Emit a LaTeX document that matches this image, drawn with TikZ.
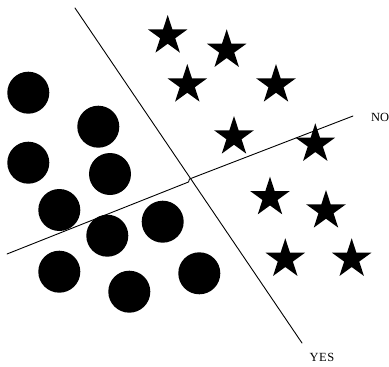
\documentclass[tikz,border=0pt]{standalone}
\usepackage{fontspec}
\setmainfont{Liberation Serif}
\usetikzlibrary{shapes.geometric}
\begin{document}
\begin{tikzpicture}[x=1bp,y=-1bp,
  dot/.style={circle,fill=black,inner sep=0pt,minimum size=42bp},
  starbox/.style={star,star points=5,star point ratio=2.618,fill=black,inner sep=0pt,minimum size=41.6bp},
  sep/.style={line width=0.9bp,line cap=round},
  lbl/.style={font=\fontsize{12.5}{14}\selectfont,inner sep=0pt,anchor=base west}]
\useasboundingbox (0,0) rectangle (389,367);
% circles
\foreach \n/\x/\y in {c1/28.3/92.7,c2/98.3/126.7,c3/28.3/162.7,c4/110/174,c5/59.3/210,
  c6/162.7/221.7,c7/107.3/235.7,c8/59.3/271.7,c9/129.3/291.7,c10/199.3/273.3}
  \node[dot] (\n) at (\x,\y) {};
% stars
\foreach \n/\x/\y in {s1/167.7/35.8,s2/226.7/50.1,s3/187.3/84.8,s4/276/84.8,s5/234/136.8,
  s6/315.3/144.1,s7/270/197.5,s8/326/210.8,s9/285.3/259.1,s10/351.7/259.1}
  \node[starbox] (\n) at (\x,\y) {};
% separating lines
\coordinate (a1) at (75,8);
\coordinate (a2) at (302,343);
\coordinate (b1) at (7,254);
\coordinate (bk1) at (188.5,182);
\coordinate (bk2) at (189.5,179);
\coordinate (b2) at (353,116);
\draw[sep] (a1) -- (a2);
\draw[sep] (b1) -- (bk1) -- (bk2) -- (b2);
\node[lbl] (no) at (371,121.7) {NO};
\node[lbl] (yes) at (309.5,361.7) {Y\kern0.5bp E\kern0.5bp S};
\end{tikzpicture}
\end{document}
